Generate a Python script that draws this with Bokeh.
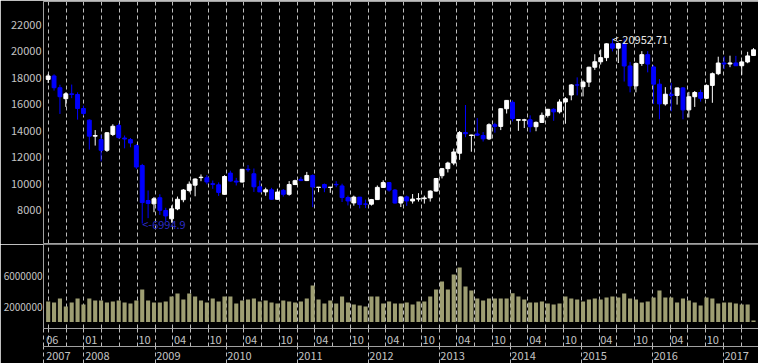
from bokeh.plotting import figure
from bokeh.models import Range1d, LinearAxis, FixedTicker, Grid, ColumnDataSource, NumeralTickFormatter
from bokeh.layouts import column
from bokeh.embed import file_html
from bokeh.resources import INLINE
from bokeh.core.properties import value

# ---------------- data (monthly, 2007-06 .. 2017-06) ----------------
start_year, start_month = 2007, 6
opens = [17876, 18138, 17248, 16420, 16785, 16737, 15680, 14800, 13590, 13330, 12525, 13720, 14395, 13450, 13330, 12880, 11375, 8730, 8480, 8940,
         7980, 7350, 8100, 8790, 9490, 9890, 10460, 10450, 10000, 9915, 9200, 10800, 10198, 10126, 11089, 10750, 9768, 9382, 9537, 8824,
         9500, 9202, 9937, 10330, 10237, 10624, 9720, 9940, 9720, 9950, 9833, 8955, 8550, 8988, 8470, 8455, 8802, 9723, 10083,
         9520, 8542, 9006, 8695, 8839, 8870, 8928, 9446, 10604, 11138, 11559, 12300, 13860, 13640, 13760, 13640, 13388, 14455, 14327, 15662,
         16150, 14790, 14790, 14828, 14304, 14632, 15162, 15621, 15425, 16174, 16700, 17460, 17325, 17674, 18798, 19207, 19520, 20563, 20236, 20585,
         18890, 17388, 19083, 19747, 18818, 17518, 16027, 16759, 16666, 17235, 15576, 16569, 16887, 16450, 17425, 18308, 19114, 19041, 19119, 18909,
         19197, 19680]
closes = [18138, 17248, 16569, 16785, 16737, 15680, 15307, 13592, 13640, 12525, 13849, 14338, 13481, 13376, 13072, 11259, 8576, 8512, 8860, 7994,
          7568, 8109, 8828, 9522, 9958, 10356, 10492, 10133, 9950, 9345, 10546, 10198, 10126, 11089, 11057, 9768, 9382, 9537, 8824, 9369,
          9202, 9937, 10228, 10237, 10624, 9755, 9740, 9693, 9740, 9920, 8955, 8700, 8988, 8434, 8455, 8802, 9723, 10083, 9520, 8542,
          9006, 8695, 8839, 8870, 8928, 9446, 10395, 11138, 11559, 12397, 13860, 13774, 13677, 13668, 13388, 14455, 14327, 15662, 16291, 14914,
          14841, 14828, 14304, 14632, 15162, 15621, 15425, 16174, 16413, 17460, 17451, 17674, 18798, 19207, 19520, 20563, 20236, 20585, 18890, 17388,
          19083, 19747, 19034, 17518, 16027, 16759, 16666, 17235, 15576, 16569, 16887, 16450, 17425, 18308, 19114, 19041, 19119, 18909, 19197, 19651,
          20110]
highs = [18297, 18262, 17475, 16900, 17488, 16900, 15900, 14860, 14050, 13700, 13900, 14490, 14555, 13640, 13450, 13000, 11500, 9490, 9000, 9200,
         8180, 8360, 9030, 9600, 10170, 10400, 10700, 10650, 10240, 10100, 10640, 10982, 10440, 11097, 11408, 11150, 10238, 9700, 9690, 9626,
         9600, 10200, 10300, 10520, 10891, 10700, 9750, 10017, 9750, 10190, 10000, 9100, 9100, 9000, 8800, 8850, 9866, 10255, 10100, 9600,
         9050, 9100, 9222, 9288, 9100, 9500, 10433, 11190, 11660, 12650, 13980, 15942, 13700, 14953, 13900, 14560, 14600, 15700, 16320, 16300,
         14860, 14900, 15164, 14700, 15376, 15646, 15700, 16374, 16533, 17520, 18030, 17800, 18830, 19778, 20133, 20600, 20952.71, 20650, 20946, 19200,
         19150, 20012, 20012, 18951, 17905, 17291, 17613, 17251, 17300, 16938, 17000, 17100, 17500, 18400, 19592, 19615, 19668, 19656, 19289, 19961,
         20240]
lows = [17600, 17030, 15270, 15801, 16460, 14840, 15150, 12573, 12880, 11690, 12400, 13600, 13400, 12670, 12750, 11110, 6994.9, 7400, 7850, 7650,
        7160, 7055, 8000, 8600, 9350, 9050, 10190, 9950, 9615, 9076, 9185, 10150, 9867, 10100, 10900, 9380, 9380, 9091, 8796, 8800,
        9027, 9100, 9900, 10200, 10200, 8227, 9360, 9360, 9310, 9735, 8619, 8359, 8343, 8135, 8160, 8350, 8800, 9700, 9400, 8500,
        8238, 8328, 8500, 8650, 8500, 8650, 9400, 10400, 10850, 11400, 11805, 13510, 12415, 13600, 13188, 13300, 13853, 14050, 15300, 14700,
        13995, 14203, 13885, 13964, 14600, 15000, 14753, 15300, 14529, 16300, 16672, 16592, 17300, 18600, 19000, 19258, 19990, 19115, 17714, 16901,
        16900, 18900, 18410, 16017, 14865, 15900, 15471, 15975, 14864, 15000, 15800, 16200, 16400, 16111, 18200, 18650, 18800, 18900, 18224, 19100,
        19660]
volumes = [2670000, 2540000, 3060000, 2020000, 2540000, 3060000, 2280000, 3060000, 2800000, 2800000, 2540000, 2670000, 2800000, 2540000, 2410000,
           2800000, 4230000, 2800000, 2540000, 2540000, 2670000, 3320000, 3710000, 2930000, 3710000, 3320000, 2800000, 2540000, 3060000, 2670000,
           3320000, 3320000, 2410000, 2800000, 2930000, 3060000, 2670000, 2800000, 2540000, 2410000, 2800000, 2670000, 2540000, 2670000, 3060000,
           4750000, 2930000, 2410000, 2800000, 2410000, 3320000, 2540000, 2280000, 2150000, 2020000, 3320000, 3320000, 2410000, 2670000, 2410000,
           2410000, 2540000, 2280000, 2670000, 2670000, 3320000, 4230000, 5280000, 4230000, 6190000, 7100000, 4620000, 4100000, 3060000, 2800000,
           3060000, 3060000, 3060000, 3060000, 3750000, 3320000, 2930000, 2540000, 2540000, 2670000, 2410000, 2280000, 2410000, 3320000, 3060000,
           2930000, 2670000, 2930000, 3060000, 2930000, 3190000, 3320000, 3190000, 3710000, 3060000, 2930000, 2540000, 2670000, 3190000, 4100000,
           3190000, 3190000, 2540000, 3060000, 2800000, 2540000, 2150000, 3190000, 3060000, 2410000, 2540000, 2540000, 2410000, 2280000, 2280000,
           200000]

price_ticks = [8000, 10000, 12000, 14000, 16000, 18000, 20000, 22000]
volume_ticks = [2000000, 6000000]
month_labels = ["06", "01", "10", "04", "10", "04", "10", "04", "10", "04", "10", "04", "10", "04", "10", "04", "10", "04", "10"]
month_label_lines = [None, 2, 5, 7, 9, 11, 13, 15, 17, 19, 21, 23, 25, 27, 29, 31, 33, 35, 37]
year_labels = ["2007", "2008", "2009", "2010", "2011", "2012", "2013", "2014", "2015", "2016", "2017"]
year_label_lines = [None, 2, 6, 10, 14, 18, 22, 26, 30, 34, 38]

# ---------------- style ----------------
FONT = "Noto Sans CJK JP"
TXT = "#c4c4c4"
FRAME = "#a0a0a0"
GRIDC = "#bdbdbd"
UP = "#ffffff"
DOWN = "#0000ff"
VOLC = "#9e9e72"
DASH = "4 3"
DIGIT_PX = 6.1   # approx. digit advance of the label font (px)
GAP_PX = 1.2     # gap between a grid line and the label written after it (px)

n = len(opens)
xs = list(range(n))
X0, X1 = -0.796, 120.85
PX_PER_UNIT = 718 / (X1 - X0)
GRID_STEP, GRID_OFF, N_LINES = 3.0216, 0.05, 40
grid_x = [round(GRID_OFF + GRID_STEP * k, 4) for k in range(N_LINES)]

colors = [UP if c >= o else DOWN for o, c in zip(opens, closes)]
src = ColumnDataSource(dict(x=xs, o=opens, c=closes, h=highs, l=lows,
                            top=[max(o, c) for o, c in zip(opens, closes)],
                            bot=[min(o, c) for o, c in zip(opens, closes)],
                            col=colors))

common = dict(output_backend="svg", toolbar_location=None, x_axis_type=None, y_axis_type=None,
              background_fill_color="black", border_fill_color="black", outline_line_color=None,
              min_border_left=40, min_border_right=0)

xr = Range1d(X0, X1)
p = figure(width=758, height=244, x_range=xr, y_range=Range1d(5485.5, 23759.7),
           min_border_top=1, min_border_bottom=1, **common)


def line_axis():
    return LinearAxis(ticker=FixedTicker(ticks=[]), axis_line_color=FRAME, axis_line_width=1,
                      major_tick_in=0, major_tick_out=0, minor_tick_in=0, minor_tick_out=0,
                      major_label_standoff=0)


p.add_layout(line_axis(), "above")
p.add_layout(line_axis(), "below")
p.add_layout(LinearAxis(ticker=FixedTicker(ticks=price_ticks), axis_line_color=FRAME,
                        major_tick_in=0, major_tick_out=0, minor_tick_in=0, minor_tick_out=0,
                        major_label_standoff=2, major_label_text_color=TXT,
                        major_label_text_font=FONT, major_label_text_font_size="11px"), "left")
p.add_layout(Grid(dimension=0, ticker=FixedTicker(ticks=grid_x), grid_line_color=GRIDC,
                  grid_line_dash=DASH, grid_line_width=1))

p.segment(x0="x", y0="l", x1="x", y1="h", line_color="col", line_width=1, source=src)
p.vbar(x="x", width=0.66, top="top", bottom="bot", fill_color="col", line_color="col",
       line_width=1, source=src)

hi_i = max(range(n), key=lambda i: highs[i])
lo_i = min(range(n), key=lambda i: lows[i])
p.text(x=[hi_i], y=[highs[hi_i]], text=["<-%s" % highs[hi_i]], text_align="left",
       text_baseline="middle", text_color="#e8e8e8", text_font=value(FONT), text_font_size="11px")
p.text(x=[lo_i], y=[lows[lo_i]], text=["<-%s" % lows[lo_i]], text_align="left",
       text_baseline="middle", text_color="#2c2cc8", text_font=value(FONT), text_font_size="11px")

# ---------------- volume panel ----------------
v = figure(width=758, height=119, x_range=xr, y_range=Range1d(-847000, 10100000),
           min_border_top=0, min_border_bottom=35, **common)
v.add_layout(LinearAxis(ticker=FixedTicker(ticks=volume_ticks), formatter=NumeralTickFormatter(format="0"),
                        axis_line_color=FRAME, major_tick_in=0, major_tick_out=0, minor_tick_in=0,
                        minor_tick_out=0, major_label_standoff=1, major_label_text_color=TXT,
                        major_label_text_font=FONT, major_label_text_font_size="10px"), "left")
v.add_layout(Grid(dimension=0, ticker=FixedTicker(ticks=grid_x), grid_line_color=GRIDC,
                  grid_line_dash=DASH, grid_line_width=1))
v.vbar(x=xs, top=volumes, bottom=0, width=0.7, fill_color=VOLC, line_color=None)


def label_tick(lab, line):
    # label is centred on its tick, so the tick sits half a label to the right of the grid line
    if line is None:
        base, gap = X0, GAP_PX + 1.5
    else:
        base, gap = grid_x[line], GAP_PX
    return round(base + (len(lab) * DIGIT_PX / 2 + gap) / PX_PER_UNIT, 4)


m_pos = [label_tick(lab, ln) for lab, ln in zip(month_labels, month_label_lines)]
y_pos = [label_tick(lab, ln) for lab, ln in zip(year_labels, year_label_lines)]
year_lines = [grid_x[ln] for ln in year_label_lines if ln is not None]

month_axis = LinearAxis(ticker=FixedTicker(ticks=m_pos, minor_ticks=[X0] + grid_x),
                        major_label_overrides=dict(zip(m_pos, month_labels)),
                        axis_line_color=FRAME, major_tick_in=0, major_tick_out=0,
                        major_tick_line_color=None,
                        minor_tick_in=0, minor_tick_out=18, minor_tick_line_color=GRIDC,
                        minor_tick_line_dash=DASH,
                        major_label_standoff=-11,
                        major_label_text_color=TXT, major_label_text_font=FONT,
                        major_label_text_font_size="11px")
year_axis = LinearAxis(ticker=FixedTicker(ticks=y_pos, minor_ticks=[X0] + year_lines),
                       major_label_overrides=dict(zip(y_pos, year_labels)),
                       axis_line_color=FRAME, major_tick_in=0, major_tick_out=0,
                       major_tick_line_color=None,
                       minor_tick_in=0, minor_tick_out=17, minor_tick_line_color=GRIDC,
                       minor_tick_line_dash=DASH,
                       major_label_standoff=-12,
                       major_label_text_color=TXT, major_label_text_font=FONT,
                       major_label_text_font_size="11px")
v.add_layout(month_axis, "below")
v.add_layout(year_axis, "below")

layout = column(p, v, spacing=0)
open("out.html", "w").write(file_html(layout, INLINE))
